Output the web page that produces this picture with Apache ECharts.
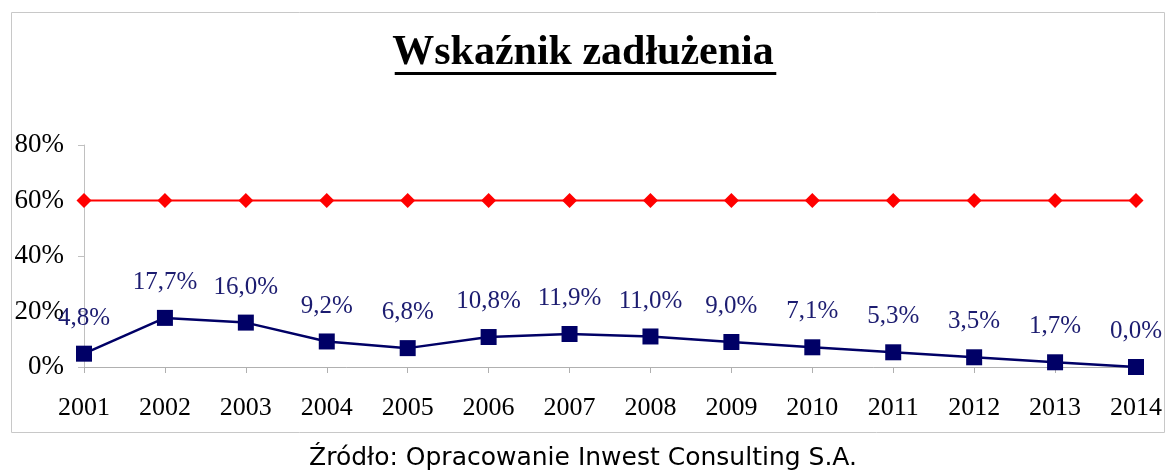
<!DOCTYPE html>
<html>
<head>
<meta charset="utf-8">
<script src="https://cdn.jsdelivr.net/npm/echarts@6/dist/echarts.min.js"></script>
<style>
  html, body { margin: 0; padding: 0; background: #fff; }
  #chart { width: 1166px; height: 472px; }
</style>
</head>
<body>
<div id="chart"></div>
<script>
const years = ['2001', '2002', '2003', '2004', '2005', '2006', '2007', '2008', '2009', '2010', '2011', '2012', '2013', '2014']
const debtRatio = [4.8, 17.7, 16.0, 9.2, 6.8, 10.8, 11.9, 11.0, 9.0, 7.1, 5.3, 3.5, 1.7, 0.0]
const limit = [60, 60, 60, 60, 60, 60, 60, 60, 60, 60, 60, 60, 60, 60]

const titleText = 'Wskaźnik zadłużenia'
const titleFont = 'bold 42px "Liberation Serif"'
const serif = '"Liberation Serif", "Times New Roman", serif'

// measure title so the underline fits it
const ctx = document.createElement('canvas').getContext('2d')
ctx.font = titleFont
const titleW = ctx.measureText(titleText).width

const chart = echarts.init(document.getElementById('chart'))

chart.setOption({
  animation: false,
  grid: { left: 84, right: 30, top: 145, bottom: 105 },
  graphic: [
    {
      type: 'rect',
      shape: { x: 11.5, y: 12.5, width: 1153, height: 420 },
      style: { fill: 'none', stroke: '#c8c8c8', lineWidth: 1 },
      z: -1
    },
    {
      type: 'text',
      left: 'center',
      top: 32,
      style: { text: titleText, font: titleFont, fill: '#000' }
    },
    {
      type: 'rect',
      shape: { x: 585.5 - titleW / 2, y: 72, width: titleW, height: 3 },
      style: { fill: '#000' }
    },
    {
      type: 'text',
      left: 'center',
      top: 446,
      style: {
        text: 'Źródło: Opracowanie Inwest Consulting S.A.',
        font: '25px "DejaVu Sans"',
        fill: '#000'
      }
    }
  ],
  xAxis: {
    type: 'category',
    data: years,
    boundaryGap: false,
    axisLine: { lineStyle: { color: '#b0b0b0', width: 1 } },
    axisTick: { show: true, length: 6, lineStyle: { color: '#b0b0b0' } },
    axisLabel: { color: '#000', fontFamily: serif, fontSize: 26, margin: 28 }
  },
  yAxis: {
    type: 'value',
    min: 0,
    max: 80,
    interval: 20,
    axisLine: { show: true, lineStyle: { color: '#c0c0c0', width: 1 } },
    axisTick: { show: true, length: 6, lineStyle: { color: '#c0c0c0' } },
    splitLine: { show: false },
    axisLabel: {
      color: '#000',
      fontFamily: serif,
      fontSize: 27,
      margin: 20,
      formatter: '{value}%'
    }
  },
  series: [
    {
      name: 'limit',
      type: 'line',
      data: limit,
      symbol: 'diamond',
      symbolSize: 15,
      lineStyle: { color: '#ff0000', width: 2 },
      itemStyle: { color: '#ff0000' }
    },
    {
      name: 'wskaźnik',
      type: 'line',
      data: debtRatio,
      symbol: 'rect',
      symbolSize: 16,
      lineStyle: { color: '#000066', width: 2.5 },
      itemStyle: { color: '#000066' },
      label: {
        show: true,
        position: 'top',
        distance: 15,
        color: '#1c1c70',
        fontFamily: serif,
        fontSize: 25,
        formatter: p => p.value.toFixed(1).replace('.', ',') + '%'
      }
    }
  ]
})
</script>
</body>
</html>
